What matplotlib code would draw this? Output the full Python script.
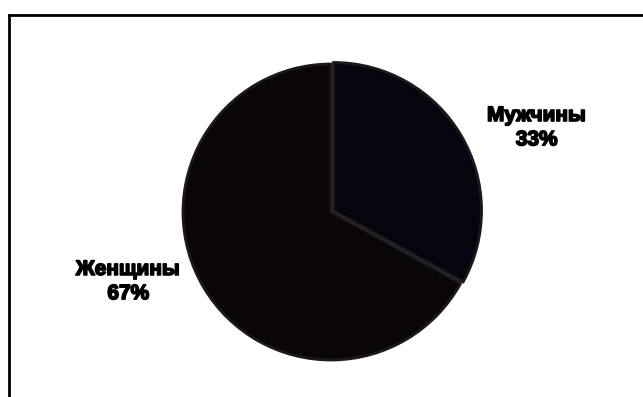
import matplotlib
matplotlib.use('Agg')
import matplotlib.pyplot as plt
import matplotlib.patheffects as pe
from matplotlib.lines import Line2D

# data
categories = ['Мужчины', 'Женщины']
shares = [33, 67]
slice_colors = ['#050510', '#0a0507']
label_pos = [(1.39, 0.57), (-1.37, -0.47)]


def main():
    fig = plt.figure(figsize=(6.43, 3.97), dpi=100)
    fig.patch.set_facecolor('white')

    # frame, only top and left edges are visible in the crop
    fig.add_artist(Line2D([9 / 643, 9 / 643], [0, 1 - 15 / 397],
                          color='black', lw=2, transform=fig.transFigure))
    fig.add_artist(Line2D([9 / 643, 1], [1 - 15 / 397, 1 - 15 / 397],
                          color='black', lw=2, transform=fig.transFigure))

    cx, cy, r = 331 / 643, 1 - 212 / 397, 148
    w, h = 2 * r / 643, 2 * r / 397
    ax = fig.add_axes([cx - w / 2, cy - h / 2, w, h])
    ax.pie(shares, colors=slice_colors, startangle=90, counterclock=False,
           radius=1, explode=[0.02, 0],
           wedgeprops=dict(edgecolor='#1a1a1a', linewidth=2))
    ax.set_xlim(-1, 1)
    ax.set_ylim(-1, 1)
    ax.set_aspect('equal')
    ax.axis('off')

    for name, val, (x, y) in zip(categories, shares, label_pos):
        ax.text(x, y, '%s\n%d%%' % (name, val), ha='center', va='center',
                fontsize=15, fontweight='bold', family='Liberation Sans',
                linespacing=1.35, clip_on=False,
                path_effects=[pe.withStroke(linewidth=1.2, foreground='black')])

    fig.savefig('out.png', dpi=100, facecolor='white')
    plt.close(fig)


if __name__ == "__main__":
    main()
